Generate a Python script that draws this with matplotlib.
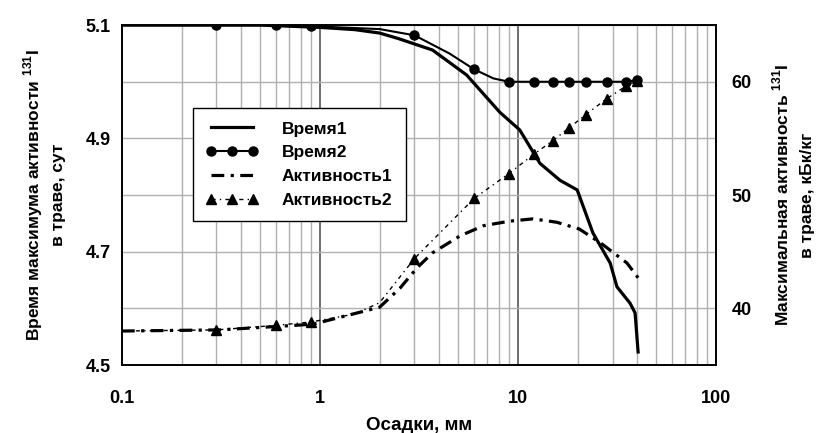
import matplotlib
matplotlib.use('Agg')
import matplotlib.pyplot as plt
from matplotlib.ticker import FixedLocator, NullFormatter

plt.rcParams['font.family'] = ['Liberation Sans', 'DejaVu Sans']
plt.rcParams['font.weight'] = 'bold'
plt.rcParams['axes.labelweight'] = 'bold'
plt.rcParams['mathtext.fontset'] = 'custom'
plt.rcParams['mathtext.rm'] = 'Liberation Sans:bold'
plt.rcParams['mathtext.bf'] = 'Liberation Sans:bold'

# Precipitation (mm) and curves
x_time1 = [0.1, 0.5, 1.0, 1.5, 2.0, 2.5, 3.7, 5.5, 8.1, 10.2, 12.9, 16.3, 19.9, 23.9, 29.2, 31.6, 36.8, 39.0, 40.4]
time1 = [5.100, 5.100, 5.096, 5.092, 5.086, 5.076, 5.056, 5.012, 4.946, 4.915, 4.856, 4.826, 4.809, 4.733, 4.680, 4.638, 4.609, 4.592, 4.523]

x_time2 = [0.1, 0.3, 0.6, 0.9, 2.0, 3.0, 4.5, 6.0, 7.5, 9.0, 12, 15, 18, 22, 28, 35, 40]
time2 = [5.100, 5.100, 5.100, 5.098, 5.093, 5.082, 5.050, 5.022, 5.006, 5.000, 5.000, 5.000, 5.000, 5.000, 5.000, 5.000, 5.003]
time2_marks = [1, 2, 3, 5, 7, 9, 10, 11, 12, 13, 14, 15, 16]

x_act1 = [0.1, 0.31, 0.6, 0.92, 2.0, 2.54, 3.1, 3.7, 5.1, 6.7, 9.1, 11.9, 15.7, 20.4, 26, 35.5, 40.4]
act1 = [38.0, 38.1, 38.4, 38.6, 40.1, 41.8, 43.6, 44.9, 46.4, 47.3, 47.7, 47.9, 47.6, 47.0, 45.8, 44.0, 42.7]

x_act2 = [0.1, 0.3, 0.6, 0.9, 1.5, 2.0, 3.0, 6.0, 9.0, 12, 15, 18, 22, 28, 35, 40]
act2 = [38.0, 38.1, 38.5, 38.8, 39.5, 40.5, 44.4, 49.7, 51.9, 53.6, 54.8, 55.9, 57.1, 58.5, 59.6, 60.1]
act2_marks = [1, 2, 3, 6, 7, 8, 9, 10, 11, 12, 13, 14, 15]

fig = plt.figure(figsize=(8.24, 4.33), dpi=100)
ax = fig.add_axes([0.148, 0.157, 0.721, 0.785])
ax2 = ax.twinx()

ax.set_xscale('log')
ax.set_xlim(0.1, 100)
ax.set_ylim(4.5, 5.1)
ax2.set_ylim(35, 65)

# grid
ax.set_yticks([4.5, 4.7, 4.9, 5.1])
ax.yaxis.set_minor_locator(FixedLocator([4.6, 4.8, 5.0]))
ax.grid(True, which='both', axis='y', color='#b0b0b0', lw=1)
ax.grid(True, which='minor', axis='x', color='#b0b0b0', lw=1)
ax.grid(True, which='major', axis='x', color='#555555', lw=1.2)
ax.xaxis.set_minor_formatter(NullFormatter())
ax.set_xticks([0.1, 1, 10, 100])
ax.set_xticklabels(['0.1', '1', '10', '100'])
ax.tick_params(axis='y', which='both', length=0, labelsize=13, pad=8)
ax.tick_params(axis='x', which='both', length=0, labelsize=13, pad=18)
ax2.set_yticks([40, 50, 60])
ax2.tick_params(length=0, labelsize=13, pad=11)
ax.set_axisbelow(True)

l1, = ax.plot(x_time1, time1, color='black', lw=2.3, label='Время1')
l2, = ax.plot(x_time2, time2, color='black', lw=1.5, marker='o', ms=6.5,
              markevery=time2_marks, label='Время2')
l3, = ax2.plot(x_act1, act1, color='black', lw=2.3, ls=(0, (4, 2, 1, 2)),
               label='Активность1')
l4, = ax2.plot(x_act2, act2, color='black', lw=1.0, ls=(0, (3, 3, 1, 3)),
               marker='^', ms=7, markevery=act2_marks, label='Активность2')

for a in (ax, ax2):
    for s in a.spines.values():
        s.set_color('black')
        s.set_linewidth(1.2)

ax.set_xlabel('Осадки, мм', fontsize=13.5, labelpad=7)
ax.set_ylabel('Время максимума активности $^{131}$I\nв траве, сут', fontsize=12.5, labelpad=14,
              linespacing=1.55)
ax2.set_ylabel('Максимальная активность $^{131}$I\nв траве, кБк/кг', fontsize=12.5, labelpad=14,
               linespacing=1.7)

leg = ax.legend(handles=[l1, l2, l3, l4], loc='upper left', bbox_to_anchor=(0.119, 0.755),
                prop={'weight': 'bold', 'size': 12.5}, numpoints=3,
                frameon=True, fancybox=False, framealpha=1, borderaxespad=0,
                edgecolor='black', handlelength=3.0, borderpad=0.75, labelspacing=0.5,
                handletextpad=1.4)
leg.get_frame().set_linewidth(1.0)

fig.savefig('out.png', dpi=100)
